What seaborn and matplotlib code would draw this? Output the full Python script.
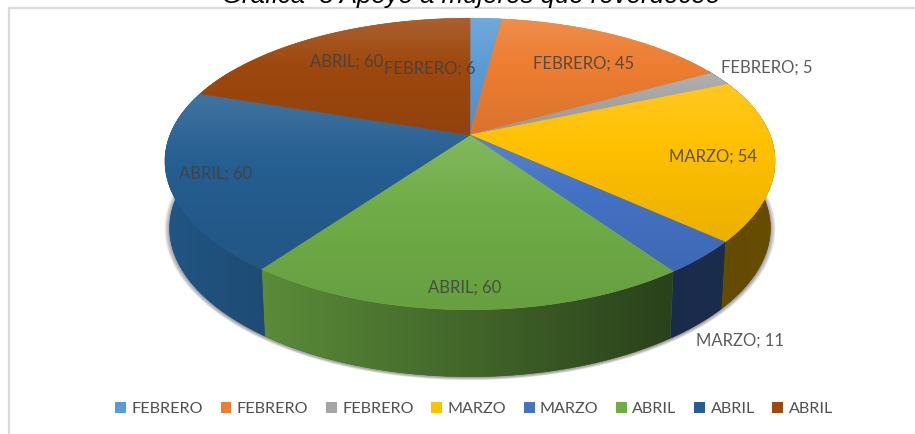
import numpy as np
import matplotlib
matplotlib.use("Agg")
import matplotlib.pyplot as plt
from matplotlib.patches import Polygon, Patch
from matplotlib.colors import to_rgb
import seaborn as sns
import pandas as pd

# ---- data ----
categories = ["FEBRERO", "FEBRERO", "FEBRERO", "MARZO", "MARZO", "ABRIL", "ABRIL", "ABRIL"]
values = [6, 45, 5, 54, 11, 60, 60, 60]
colors = ["#5b9bd5", "#ed7d31", "#a5a5a5", "#ffc000", "#4472c4", "#70ad47", "#255e91", "#9e480e"]
title = "Gráfica  8 Apoyo a mujeres que reverdeceo"

# ---- layout (pixels of the 915x434 canvas) ----
label_xy = [(430, 69), (584, 64), (767, 68), (713, 157), (740, 341), (465, 288), (216, 174), (347, 62)]
CX, CY = 470.0, 135.0          # apex of the pie on screen
A, B = 300.0, 140.0            # perspective circle
KX, KY = 0.18, 0.1987
DEPTH, SHRINK = 67.0, 0.985    # extrusion of the body

sns.set_theme(style="white")
plt.rcParams["font.family"] = ["Lato", "DejaVu Sans"]
df = pd.DataFrame({"cat": categories, "val": values, "col": sns.color_palette(colors)})
df["end"] = df["val"].cumsum() / df["val"].sum() * 2 * np.pi
df["start"] = df["end"].shift(fill_value=0.0)


def rim(phi):
    sx = 1.0 / (1.0 + KX * np.cos(phi))
    sy = 1.0 / (1.0 + KY * np.cos(phi))
    return CX + A * np.sin(phi) * sx, CY - B * np.cos(phi) * sy


def base(phi):
    x, y = rim(phi)
    return CX + (x - CX) * SHRINK, y + DEPTH


def gradient_fill(ax, xs, ys, rgb_img, under):
    pts = np.column_stack([xs, ys])
    ax.add_patch(Polygon(pts, closed=True, fc=under, ec=under, lw=0.4, zorder=ax._z))
    ax._z += 1
    im = ax.imshow(rgb_img, extent=(xs.min(), xs.max(), ys.max(), ys.min()),
                   aspect="auto", interpolation="bilinear", zorder=ax._z)
    clip = Polygon(pts, closed=True, transform=ax.transData)
    im.set_clip_path(clip)
    ax._z += 1


fig = plt.figure(figsize=(9.15, 4.34), dpi=100)
ax = fig.add_axes([0, 0, 1, 1])
ax._z = 2
ax.set_axis_off()

# soft shadow under the body
t = np.linspace(0, 2 * np.pi, 360)
bx, by = base(t)
by_mid = 0.5 * (by.min() + by.max())
for grow in np.arange(5.0, 0, -1.0):
    f = 1 + grow / 300
    ax.add_patch(Polygon(np.column_stack([CX + (bx - CX) * f, by_mid + (by - by_mid) * f + 1.0]),
                         closed=True, fc="black", ec="none", alpha=0.08, zorder=1))

# side walls
for _, r in df.iterrows():
    lo, hi = max(r["start"], np.deg2rad(60)), min(r["end"], np.deg2rad(300))
    if hi <= lo:
        continue
    p = np.linspace(lo, hi, 80)
    tx, ty = rim(p)
    ux, uy = base(p)
    xs = np.r_[tx, ux[::-1]]
    ys = np.r_[ty, uy[::-1]]
    gx = np.linspace(xs.min(), xs.max(), 64)
    fac = np.clip(0.90 - 0.52 * (gx - 170) / 500, 0.38, 0.92)
    fac = np.where(gx > 670, 0.38 + 0.02 * (gx - 670) / 100, fac)
    c = np.array(to_rgb(r["col"]))
    img = (fac[:, None] * c)[None, :, :]
    gradient_fill(ax, xs, ys, img, tuple(c * fac.mean()))

# top face
for _, r in df.iterrows():
    p = np.linspace(r["start"], r["end"], 160)
    rx, ry = rim(p)
    xs = np.r_[CX, rx]
    ys = np.r_[CY, ry]
    v = np.linspace(0, 1, 64)
    c = np.array(to_rgb(r["col"]))
    light = np.clip(0.13 * (1 - v / 0.4), 0, None)
    dark = np.clip(0.08 * (v - 0.4) / 0.6, 0, None)
    col = c[None, :] * (1 - dark[:, None]) * (1 - light[:, None]) + light[:, None]
    gradient_fill(ax, xs, ys, col[:, None, :], tuple(c))

# data labels
for (lx, ly), cat, val in zip(label_xy, df["cat"], df["val"]):
    ax.text(lx, ly, f"{cat}; {val}", ha="center", va="center", fontsize=12,
            color="#404040", alpha=0.85, zorder=60)

# chart frame and clipped title
ax.plot([9, 9, 915], [434, 7.5, 7.5], color="#d9d9d9", lw=1.6, zorder=70, solid_joinstyle="miter")
ax.text(471, 3.5, title, ha="center", va="baseline", fontsize=18.5, style="italic",
        family="Liberation Sans", color="black", zorder=71)

ax.set_xlim(0, 915)
ax.set_ylim(434, 0)

handles = [Patch(fc=c, ec="none", label=n) for n, c in zip(df["cat"], df["col"])]
leg = ax.legend(handles=handles, ncol=len(handles), loc="center", bbox_to_anchor=(474 / 915, 1 - 409 / 434),
                frameon=False, fontsize=11.6, handlelength=0.68, handleheight=0.68, handletextpad=0.33,
                columnspacing=1.09, labelcolor="#505050")
leg.set_zorder(80)

fig.savefig("out.png", dpi=100)
